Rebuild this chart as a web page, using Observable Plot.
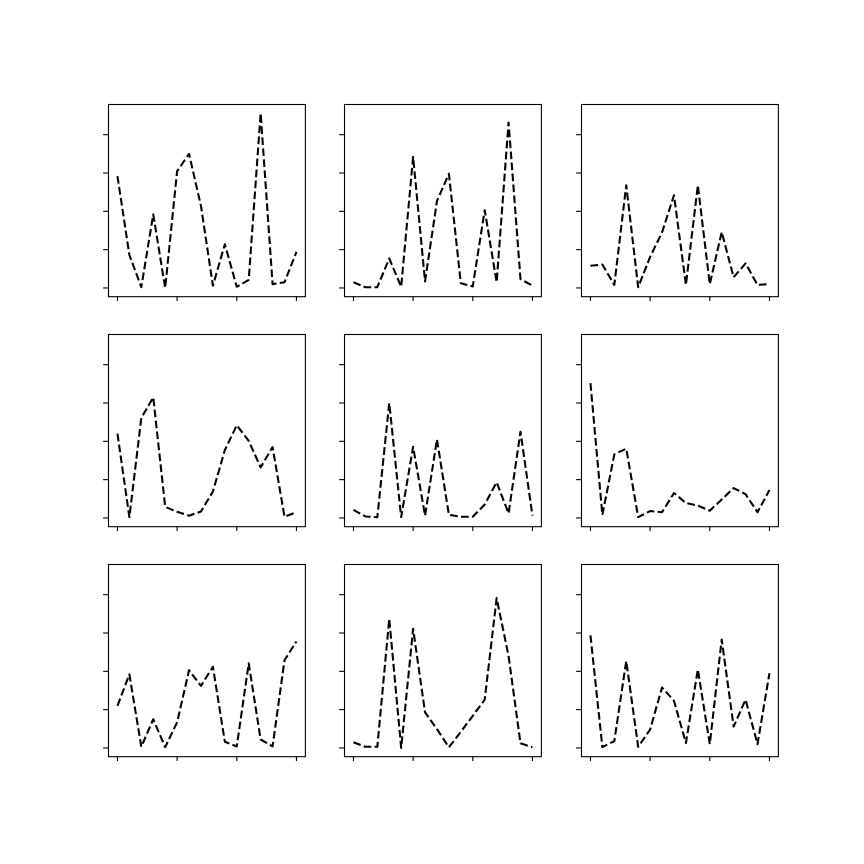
<!DOCTYPE html>
<html>
<head>
<meta charset="utf-8">
<script src="https://cdn.jsdelivr.net/npm/d3@7"></script>
<script src="https://cdn.jsdelivr.net/npm/@observablehq/plot@0.6"></script>
<style>
  body { margin: 0; background: #fff; }
  #chart { position: relative; width: 864px; height: 864px; background: #fff; }
  #chart svg { position: absolute; overflow: visible; }
</style>
</head>
<body>
<div id="chart"></div>
<script>
// x positions (index of each sample) and tick values
const xIndex = [0, 1, 2, 3, 4, 5, 6, 7, 8, 9, 10, 11, 12, 13, 14, 15];
const xTicks = [0, 5, 10, 15];
const yTicks = [0, 1, 2, 3, 4];

// series values, one per panel (row-major order)
const panel1 = [2.92, 0.86, 0.02, 1.92, 0.00, 3.05, 3.50, 2.14, 0.06, 1.14, 0.03, 0.21, 4.56, 0.10, 0.15, 0.94];
const panel2 = [0.15, 0.02, 0.02, 0.77, 0.03, 3.42, 0.17, 2.27, 2.98, 0.12, 0.04, 2.03, 0.15, 4.32, 0.23, 0.06];
const panel3 = [0.58, 0.61, 0.08, 2.68, 0.02, 0.81, 1.45, 2.42, 0.08, 2.68, 0.10, 1.46, 0.28, 0.64, 0.08, 0.10];
const panel4 = [2.20, 0.02, 2.61, 3.15, 0.29, 0.16, 0.06, 0.17, 0.69, 1.77, 2.42, 2.01, 1.32, 1.85, 0.03, 0.15];
const panel5 = [0.21, 0.04, 0.02, 3.00, 0.02, 1.86, 0.06, 2.05, 0.08, 0.03, 0.03, 0.35, 0.93, 0.12, 2.25, 0.06];
const panel6 = [3.52, 0.08, 1.66, 1.81, 0.02, 0.18, 0.15, 0.65, 0.39, 0.32, 0.19, 0.48, 0.78, 0.62, 0.15, 0.73];
const panel7 = [1.10, 1.92, 0.03, 0.75, 0.02, 0.67, 2.03, 1.62, 2.12, 0.16, 0.04, 2.21, 0.22, 0.04, 2.29, 2.78];
const panel8 = [0.15, 0.03, 0.03, 3.37, 0.00, 3.11, 0.93, 0.49, 0.02, 0.42, 0.84, 1.26, 3.91, 2.40, 0.12, 0.02];
const panel9 = [2.94, 0.02, 0.18, 2.27, 0.03, 0.48, 1.58, 1.23, 0.13, 2.05, 0.10, 2.83, 0.56, 1.26, 0.10, 1.95];

const panels = [panel1, panel2, panel3, panel4, panel5, panel6, panel7, panel8, panel9];

// shared y scale (matplotlib-style 5% margins), shared x scale
const allVals = panels.flat();
const yMin = d3.min(allVals), yMax = d3.max(allVals);
const yPad = (yMax - yMin) * 0.05;
const yDomain = [yMin - yPad, yMax + yPad];
const xPad = (d3.max(xIndex) - d3.min(xIndex)) * 0.05;
const xDomain = [d3.min(xIndex) - xPad, d3.max(xIndex) + xPad];

// layout
const colLeft = [108, 344.3, 580.6];
const rowTop = [103.7, 333.9, 564.1];
const panelW = 196.9, panelH = 192.2;
const mL = 20, mR = 10, mT = 10, mB = 20;

const chart = document.getElementById("chart");

panels.forEach((vals, k) => {
  const r = Math.floor(k / 3), c = k % 3;
  const data = xIndex.map((x, i) => ({x, y: vals[i]}));
  const svg = Plot.plot({
    width: panelW + mL + mR,
    height: panelH + mT + mB,
    marginLeft: mL, marginRight: mR, marginTop: mT, marginBottom: mB,
    style: {background: "transparent"},
    x: {domain: xDomain},
    y: {domain: yDomain},
    marks: [
      Plot.line(data, {x: "x", y: "y", stroke: "black", strokeWidth: 2.08,
        strokeDasharray: "7.7,3.33", strokeLinecap: "butt", strokeLinejoin: "round"}),
      Plot.axisX(xTicks, {tickSize: 4.9, tickFormat: () => "", label: null, stroke: "black", strokeWidth: 1.1}),
      Plot.axisY(yTicks, {tickSize: 4.9, tickFormat: () => "", label: null, stroke: "black", strokeWidth: 1.1}),
      Plot.frame({stroke: "black", strokeWidth: 1.1})
    ]
  });
  svg.style.left = (colLeft[c] - mL) + "px";
  svg.style.top = (rowTop[r] - mT) + "px";
  chart.appendChild(svg);
});
</script>
</body>
</html>
